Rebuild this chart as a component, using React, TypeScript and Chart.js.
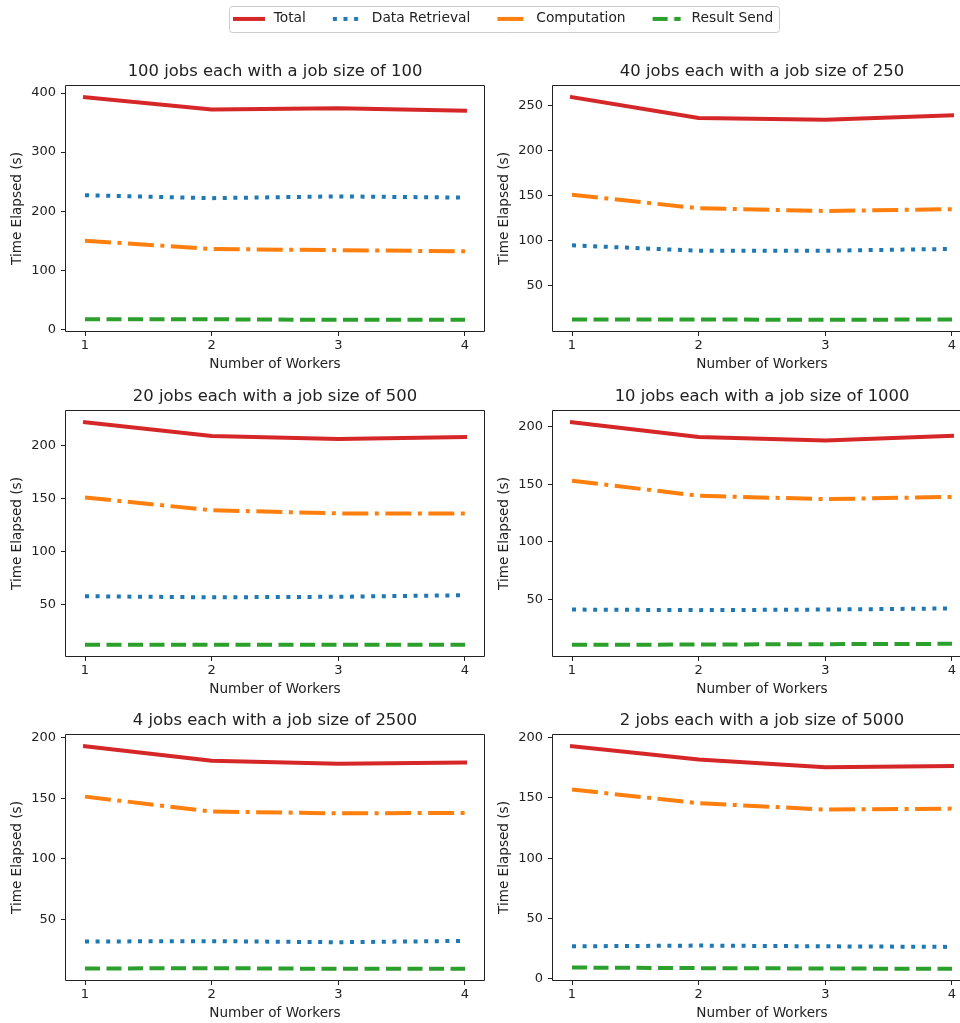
import React, { useEffect, useRef } from 'react';
import { Chart, registerables } from 'chart.js';

Chart.register(...registerables);

const FONT = '"DejaVu Sans", "Liberation Sans", sans-serif';
const TEXT = '#222222';

// ---- data ----
const workers = [1, 2, 3, 4];
const seriesLabels = ['Total', 'Data Retrieval', 'Computation', 'Result Send'];
const seriesColors = ['#d62728', '#1f77b4', '#ff7f0e', '#2ca02c'];
const panelTitles = [
  '100 jobs each with a job size of 100',
  '40 jobs each with a job size of 250',
  '20 jobs each with a job size of 500',
  '10 jobs each with a job size of 1000',
  '4 jobs each with a job size of 2500',
  '2 jobs each with a job size of 5000',
];
const totalTime = [
  [393, 372, 374, 370],
  [259, 236, 234, 239],
  [222, 209, 206, 208],
  [204, 191, 188, 192],
  [193, 181, 178.5, 179.5],
  [193, 182, 175.5, 176.5],
];
const retrievalTime = [
  [227, 222, 225, 223],
  [95, 89, 89, 91],
  [58, 57, 57.5, 59],
  [41, 40.5, 41, 42],
  [31.6, 31.9, 31, 32.1],
  [27, 27.6, 27, 26.5],
];
const computationTime = [
  [150, 136, 134, 132],
  [151, 136, 133, 135],
  [151, 139, 136, 136],
  [153, 140, 137, 139],
  [151.3, 139, 137.5, 137.8],
  [157, 145.7, 140.4, 141.2],
];
const sendTime = [
  [17, 17, 16, 16],
  [13, 13, 12.5, 13],
  [12.3, 12.3, 12.2, 12.2],
  [10.3, 10.6, 10.9, 11.2],
  [9.3, 9.6, 9, 9],
  [9.4, 8.9, 8.6, 8.3],
];
const yTickValues = [
  [0, 100, 200, 300, 400],
  [50, 100, 150, 200, 250],
  [50, 100, 150, 200],
  [50, 100, 150, 200],
  [50, 100, 150, 200],
  [0, 50, 100, 150, 200],
];
const xTickValues = [1, 2, 3, 4];

// ---- styles / layout ----
const LW = 4;
const seriesDash = [[], [4, 6.6], [26, 6.5, 4, 6.5], [15, 6.5]];
const seriesCap = ['square', 'butt', 'butt', 'butt'];

const COL_LEFT = [66, 553];
const ROW_TOP = [86, 411, 735];
const PLOT_W = 418;
const PLOT_H = 245;
const Y_AXIS_W = 66;
const TITLE_H = 28;
const X_AXIS_H = 45;
const RIGHT_PAD = 8;
const VIEW_W = 960;

const LEGEND_W = 1004;
const LEGEND_H = 140;
const LEGEND_TOP = -11;
const HANDLE_BOX = 36;

function makeFramePlugin(pageLeft: number) {
  return {
    id: 'frame',
    afterDatasetsDraw(chart: any) {
      const { ctx, chartArea: a } = chart;
      const l = Math.round(a.left) - 0.5;
      const t = Math.round(a.top) - 0.5;
      const r = Math.round(a.right) + 0.5;
      const b = Math.round(a.bottom) + 0.5;
      const visibleRight = pageLeft + r < VIEW_W;
      const xr = visibleRight ? r : Math.min(r, VIEW_W - pageLeft + 2);
      ctx.save();
      ctx.strokeStyle = TEXT;
      ctx.lineWidth = 1;
      ctx.beginPath();
      ctx.moveTo(l, t);
      ctx.lineTo(xr, t);
      ctx.moveTo(l, t);
      ctx.lineTo(l, b);
      ctx.lineTo(xr, b);
      if (visibleRight) {
        ctx.moveTo(r, t);
        ctx.lineTo(r, b);
      }
      ctx.stroke();
      ctx.restore();
    },
  };
}

const legendFramePlugin = {
  id: 'legendFrame',
  beforeDraw(chart: any) {
    const hb = chart.legend && chart.legend.legendHitBoxes;
    if (!hb || !hb.length) return;
    const first = hb[0];
    const last = hb[hb.length - 1];
    const cy = first.top + first.height / 2;
    const x0 = Math.round(first.left - 2) + 0.5;
    const x1 = Math.round(last.left + last.width + 6) + 0.5;
    const y0 = Math.round(cy - 13) + 0.5;
    const { ctx } = chart;
    ctx.save();
    ctx.fillStyle = '#ffffff';
    ctx.strokeStyle = '#cccccc';
    ctx.lineWidth = 1;
    ctx.beginPath();
    (ctx as any).roundRect(x0, y0, x1 - x0, 26, 3);
    ctx.fill();
    ctx.stroke();
    ctx.restore();
  },
};

function makeHandle(i: number) {
  const c = document.createElement('canvas');
  c.width = 32;
  c.height = 6;
  const g = c.getContext('2d') as CanvasRenderingContext2D;
  g.strokeStyle = seriesColors[i];
  g.lineWidth = LW;
  g.lineCap = seriesCap[i] as CanvasLineCap;
  g.setLineDash(seriesDash[i]);
  g.beginPath();
  g.moveTo(2, 3);
  g.lineTo(30, 3);
  g.stroke();
  return c;
}

function panelRect(p: number) {
  const col = p % 2;
  const row = Math.floor(p / 2);
  return {
    left: COL_LEFT[col] - Y_AXIS_W,
    top: ROW_TOP[row] - TITLE_H,
    width: Y_AXIS_W + PLOT_W + RIGHT_PAD,
    height: TITLE_H + PLOT_H + X_AXIS_H,
  };
}

function makePanel(canvas: HTMLCanvasElement, p: number) {
  const series = [totalTime[p], retrievalTime[p], computationTime[p], sendTime[p]];
  const all = series.flat();
  const lo = Math.min(...all);
  const hi = Math.max(...all);
  const m = (hi - lo) * 0.05;
  const xm = (xTickValues[xTickValues.length - 1] - xTickValues[0]) * 0.05;
  return new Chart(canvas, {
    type: 'line',
    data: {
      datasets: series.map((vals, s) => ({
        label: seriesLabels[s],
        data: vals.map((v, i) => ({ x: workers[i], y: v })),
        borderColor: seriesColors[s],
        backgroundColor: seriesColors[s],
        borderWidth: LW,
        borderDash: seriesDash[s],
        borderCapStyle: seriesCap[s] as any,
        borderJoinStyle: 'round' as any,
        pointRadius: 0,
        tension: 0,
        fill: false,
      })),
    },
    options: {
      animation: false,
      responsive: false,
      events: [],
      layout: { padding: { left: 0, top: 0, bottom: 0, right: RIGHT_PAD } },
      plugins: {
        legend: { display: false },
        tooltip: { enabled: false },
        title: {
          display: true,
          text: panelTitles[p],
          fullSize: false,
          color: TEXT,
          font: { family: FONT, size: 16.4, weight: 'normal', lineHeight: '20px' } as any,
          padding: { top: 4, bottom: 4 },
        },
      },
      scales: {
        x: {
          type: 'linear',
          min: xTickValues[0] - xm,
          max: xTickValues[xTickValues.length - 1] + xm,
          afterBuildTicks: (s: any) => {
            s.ticks = xTickValues.map((v) => ({ value: v }));
          },
          afterFit: (s: any) => {
            s.height = X_AXIS_H;
            s.paddingLeft = 0;
            s.paddingRight = 0;
          },
          grid: { drawOnChartArea: false, drawTicks: true, tickLength: 5, color: TEXT },
          border: { display: false },
          ticks: {
            color: TEXT,
            font: { family: FONT, size: 13 },
            padding: 2,
            maxRotation: 0,
            autoSkip: false,
          },
          title: {
            display: true,
            text: 'Number of Workers',
            color: TEXT,
            font: { family: FONT, size: 13.6, lineHeight: 1.2 },
            padding: { top: 0, bottom: 3 },
          },
        },
        y: {
          type: 'linear',
          min: lo - m,
          max: hi + m,
          afterBuildTicks: (s: any) => {
            s.ticks = yTickValues[p].map((v) => ({ value: v }));
          },
          afterFit: (s: any) => {
            s.width = Y_AXIS_W;
            s.paddingTop = 0;
            s.paddingBottom = 0;
          },
          grid: { drawOnChartArea: false, drawTicks: true, tickLength: 5, color: TEXT },
          border: { display: false },
          ticks: {
            color: TEXT,
            font: { family: FONT, size: 13 },
            padding: 5,
            autoSkip: false,
          },
          title: {
            display: true,
            text: 'Time Elapsed (s)',
            color: TEXT,
            font: { family: FONT, size: 13.6, lineHeight: 1.2 },
            padding: { top: 9, bottom: 0 },
          },
        },
      },
    } as any,
    plugins: [makeFramePlugin(panelRect(p).left)],
  });
}

function makeLegend(canvas: HTMLCanvasElement) {
  const handles = seriesLabels.map((_, i) => makeHandle(i));
  return new Chart(canvas, {
    type: 'line',
    data: {
      datasets: seriesLabels.map((label, s) => ({
        label,
        data: [],
        borderColor: seriesColors[s],
        borderWidth: LW,
        borderDash: seriesDash[s],
      })),
    },
    options: {
      animation: false,
      responsive: false,
      events: [],
      layout: { padding: 0 },
      scales: { x: { display: false }, y: { display: false } },
      plugins: {
        tooltip: { enabled: false },
        legend: {
          display: true,
          position: 'top',
          align: 'center',
          maxHeight: 100,
          labels: {
            usePointStyle: true,
            pointStyleWidth: HANDLE_BOX,
            boxHeight: 6,
            padding: 23,
            color: TEXT,
            font: { family: FONT, size: 13.8 },
            generateLabels: () =>
              seriesLabels.map((text, i) => ({
                text,
                fillStyle: seriesColors[i],
                strokeStyle: seriesColors[i],
                lineWidth: 0,
                pointStyle: handles[i],
                rotation: 0,
                fontColor: TEXT,
                hidden: false,
                datasetIndex: i,
              })),
          },
        },
      },
    } as any,
    plugins: [legendFramePlugin],
  });
}

export default function App() {
  const legendRef = useRef<HTMLCanvasElement | null>(null);
  const panelRefs = useRef<(HTMLCanvasElement | null)[]>([]);

  useEffect(() => {
    const charts: Chart[] = [];
    if (legendRef.current) charts.push(makeLegend(legendRef.current));
    panelTitles.forEach((_, p) => {
      const c = panelRefs.current[p];
      if (c) charts.push(makePanel(c, p));
    });
    return () => charts.forEach((c) => c.destroy());
  }, []);

  return (
    <div
      style={{
        position: 'fixed',
        left: 0,
        top: 0,
        width: VIEW_W,
        height: 1023,
        overflow: 'hidden',
        background: '#ffffff',
      }}
    >
      {panelTitles.map((_, p) => {
        const r = panelRect(p);
        return (
          <canvas
            key={p}
            ref={(el) => {
              panelRefs.current[p] = el;
            }}
            width={r.width}
            height={r.height}
            style={{ position: 'absolute', left: r.left, top: r.top, width: r.width, height: r.height }}
          />
        );
      })}
      <canvas
        ref={legendRef}
        width={LEGEND_W}
        height={LEGEND_H}
        style={{ position: 'absolute', left: 0, top: LEGEND_TOP, width: LEGEND_W, height: LEGEND_H }}
      />
    </div>
  );
}
